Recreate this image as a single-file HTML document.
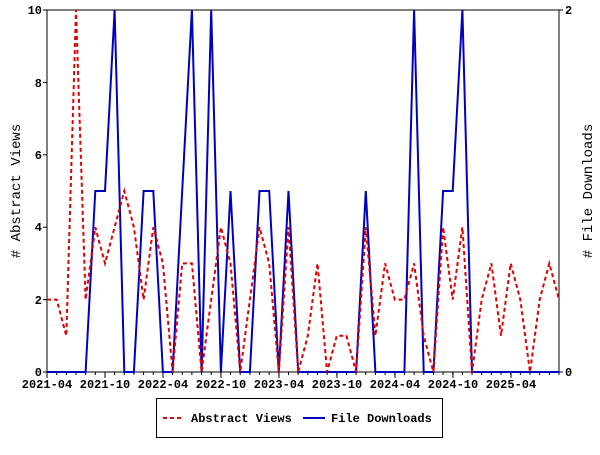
<!DOCTYPE html>
<html><head><meta charset="utf-8"><style>
body{margin:0;background:#fff;width:600px;height:450px;overflow:hidden}
text{font-family:"Liberation Mono","DejaVu Sans Mono",monospace;font-weight:bold;font-size:12px;fill:#000}
</style></head><body>
<svg width="600" height="450" xmlns="http://www.w3.org/2000/svg">
<rect x="47" y="10" width="512" height="362" fill="none" stroke="#000" stroke-width="1"/>
<g stroke="#000" stroke-width="1">
<line x1="43" y1="10" x2="47" y2="10"/><line x1="43" y1="82.4" x2="47" y2="82.4"/><line x1="43" y1="154.8" x2="47" y2="154.8"/><line x1="43" y1="227.2" x2="47" y2="227.2"/><line x1="43" y1="299.6" x2="47" y2="299.6"/><line x1="43" y1="372" x2="47" y2="372"/>
<line x1="559" y1="10" x2="563" y2="10"/><line x1="559" y1="372" x2="563" y2="372"/>
<line x1="47" y1="372" x2="47" y2="378"/><line x1="105" y1="372" x2="105" y2="378"/><line x1="163" y1="372" x2="163" y2="378"/><line x1="221" y1="372" x2="221" y2="378"/><line x1="279" y1="372" x2="279" y2="378"/><line x1="337" y1="372" x2="337" y2="378"/><line x1="395" y1="372" x2="395" y2="378"/><line x1="453" y1="372" x2="453" y2="378"/><line x1="511" y1="372" x2="511" y2="378"/>
</g>
<g stroke="#000" stroke-width="1" id="minor"></g>
<g text-anchor="end">
<text x="42" y="14">10</text><text x="42" y="87">8</text><text x="42" y="159">6</text><text x="42" y="231">4</text><text x="42" y="304">2</text><text x="42" y="376">0</text>
</g>
<text x="565" y="14">2</text><text x="565" y="376">0</text>
<g text-anchor="middle">
<text x="47" y="388">2021-04</text><text x="105" y="388">2021-10</text><text x="163" y="388">2022-04</text><text x="221" y="388">2022-10</text><text x="279" y="388">2023-04</text><text x="337" y="388">2023-10</text><text x="395" y="388">2024-04</text><text x="453" y="388">2024-10</text><text x="511" y="388">2025-04</text>
</g>
<text transform="translate(20,191) rotate(-90)" text-anchor="middle" style="font-size:14px;font-weight:normal">#  Abstract Views</text>
<text transform="translate(592,191) rotate(-90)" text-anchor="middle" style="font-size:14px;font-weight:normal">#  File Downloads</text>
<polyline fill="none" stroke="#0000c0" stroke-width="2" points="47,372 56.7,372 66.3,372 76,372 85.6,372 95.3,191 105,191 114.6,10 124.3,372 133.9,372 143.6,191 153.3,191 162.9,372 172.6,372 182.2,191 191.9,10 201.6,372 211.2,10 220.9,372 230.5,191 240.2,372 249.9,372 259.5,191 269.2,191 278.8,372 288.5,191 298.2,372 307.8,372 317.5,372 327.1,372 336.8,372 346.5,372 356.1,372 365.8,191 375.4,372 385.1,372 394.8,372 404.4,372 414.1,10 423.7,372 433.4,372 443.1,191 452.7,191 462.4,10 472,372 481.7,372 491.4,372 501,372 510.7,372 520.3,372 530,372 539.7,372 549.3,372 559,372"/>
<polyline fill="none" stroke="#e00000" stroke-width="2" stroke-dasharray="4,3" points="47,299.6 56.7,299.6 66.3,335.8 76,10 85.6,299.6 95.3,227.2 105,263.4 114.6,227.2 124.3,191 133.9,227.2 143.6,299.6 153.3,227.2 162.9,263.4 172.6,372 182.2,263.4 191.9,263.4 201.6,372 211.2,299.6 220.9,227.2 230.5,263.4 240.2,372 249.9,299.6 259.5,227.2 269.2,263.4 278.8,372 288.5,227.2 298.2,372 307.8,335.8 317.5,263.4 327.1,372 336.8,335.8 346.5,335.8 356.1,372 365.8,227.2 375.4,335.8 385.1,263.4 394.8,299.6 404.4,299.6 414.1,263.4 423.7,335.8 433.4,372 443.1,227.2 452.7,299.6 462.4,227.2 472,372 481.7,299.6 491.4,263.4 501,335.8 510.7,263.4 520.3,299.6 530,372 539.7,299.6 549.3,263.4 559,299.6"/>
<rect x="156.5" y="398.5" width="286" height="39" fill="#fff" stroke="#000" stroke-width="1"/>
<line x1="163" y1="418" x2="183" y2="418" stroke="#e00000" stroke-width="2" stroke-dasharray="4,3"/>
<text x="191" y="422">Abstract Views</text>
<line x1="303" y1="418" x2="325" y2="418" stroke="#0000c0" stroke-width="2"/>
<text x="331" y="422">File Downloads</text>
</svg>
<script>
var g=document.getElementById('minor'),s='';
for(var i=0;i<54;i++){var x=47+9.66*i;s+='<line x1="'+x+'" y1="372" x2="'+x+'" y2="375"/>';}
g.innerHTML=s;
</script>
</body></html>
